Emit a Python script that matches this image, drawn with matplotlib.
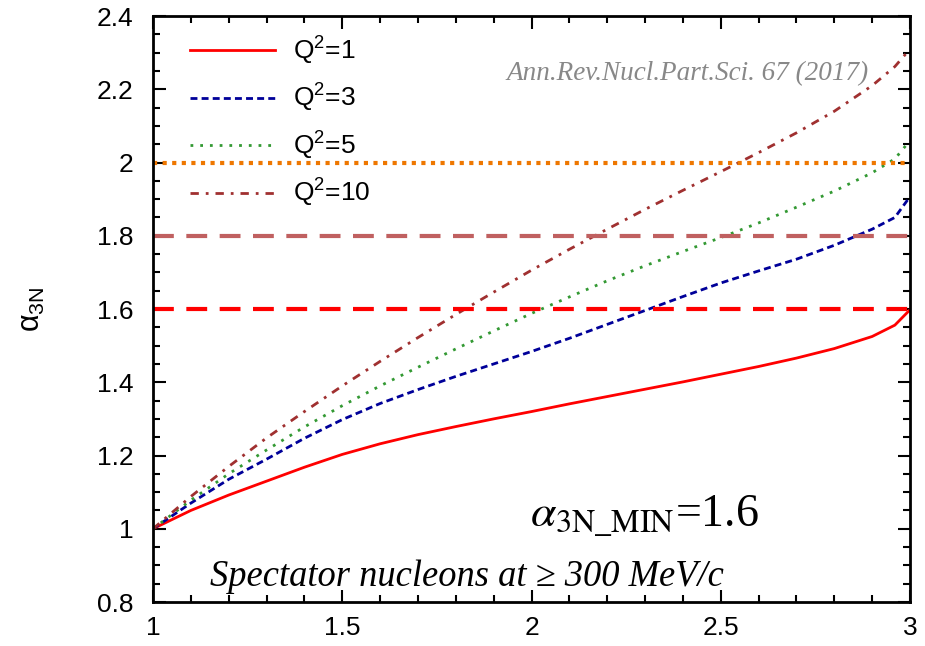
import matplotlib
matplotlib.use("Agg")
from matplotlib import pyplot as plt
from matplotlib.ticker import MultipleLocator

# data
x = [1.0, 1.1, 1.2, 1.3, 1.4, 1.5, 1.6, 1.7, 1.8, 1.9, 2.0, 2.1, 2.2, 2.3, 2.4,
     2.5, 2.6, 2.7, 2.8, 2.9, 2.96, 3.0]
q1 = [1.0, 1.05, 1.092, 1.13, 1.168, 1.203, 1.232, 1.257, 1.279, 1.30, 1.32, 1.341,
      1.361, 1.381, 1.401, 1.422, 1.443, 1.466, 1.492, 1.525, 1.556, 1.598]
q3 = [1.0, 1.07, 1.135, 1.19, 1.247, 1.298, 1.342, 1.38, 1.416, 1.45, 1.484, 1.52,
      1.558, 1.596, 1.634, 1.671, 1.704, 1.736, 1.774, 1.818, 1.85, 1.907]
q5 = [1.0, 1.078, 1.15, 1.215, 1.278, 1.336, 1.39, 1.441, 1.491, 1.54, 1.588, 1.633,
      1.677, 1.718, 1.757, 1.795, 1.835, 1.878, 1.922, 1.972, 2.01, 2.06]
q10 = [1.0, 1.088, 1.17, 1.248, 1.32, 1.39, 1.457, 1.522, 1.585, 1.646, 1.706, 1.763,
       1.818, 1.872, 1.924, 1.975, 2.027, 2.081, 2.14, 2.21, 2.262, 2.31]
labels = ['Q$^2$=1', 'Q$^2$=3', 'Q$^2$=5', 'Q$^2$=10']
hlines = [2.0, 1.8, 1.6]

plt.rcParams['font.family'] = ['Liberation Sans', 'DejaVu Sans']
plt.rcParams['mathtext.fontset'] = 'custom'
plt.rcParams['mathtext.rm'] = 'Liberation Sans'
plt.rcParams['mathtext.it'] = 'Liberation Sans:italic'

fig = plt.figure(figsize=(9.25, 6.46), dpi=100)
ax = fig.add_axes([0.1654, 0.0681, 0.8184, 0.9071])

ax.plot(x, q1, color='#ff0000', lw=2, label=labels[0])
ax.plot(x, q3, color='#000099', lw=2, ls=(0, (2.5, 1.5)), label=labels[1])
ax.plot(x, q5, color='#339933', lw=2, ls=(0, (1, 2.5)), label=labels[2])
ax.plot(x, q10, color='#a03030', lw=2, ls=(0, (3, 2.5, 1, 2.5)), label=labels[3])

ax.axhline(hlines[0], color='#ee7700', lw=3, ls=(0, (1, 1.3)))
ax.axhline(hlines[1], color='#c06060', lw=3, ls=(0, (5, 3)))
ax.axhline(hlines[2], color='#ff0000', lw=3, ls=(0, (5, 3)))

ax.set_xlim(1, 3)
ax.set_ylim(0.8, 2.4)
ax.xaxis.set_major_locator(MultipleLocator(0.5))
ax.xaxis.set_minor_locator(MultipleLocator(0.1))
ax.yaxis.set_major_locator(MultipleLocator(0.2))
ax.yaxis.set_minor_locator(MultipleLocator(0.05))
ax.xaxis.set_major_formatter(plt.FuncFormatter(lambda v, p: ('%g' % v)))
ax.yaxis.set_major_formatter(plt.FuncFormatter(lambda v, p: ('%g' % round(v, 2))))
ax.tick_params(which='both', direction='in', top=True, right=True, width=1.5,
               labelsize=19)
ax.tick_params(which='major', length=9)
ax.tick_params(which='minor', length=5)
ax.tick_params(axis='x', pad=10)
ax.tick_params(axis='y', pad=14)
for s in ax.spines.values():
    s.set_linewidth(2)

ax.set_ylabel('\u03b1$_{\\mathrm{3N}}$', fontsize=22, labelpad=36)

ax.legend(loc='upper left', frameon=False, fontsize=19, handlelength=3.2,
          handletextpad=0.7, labelspacing=0.58, borderaxespad=0.3,
          bbox_to_anchor=(0.025, 1.0))

ax.text(0.945, 0.901, 'Ann.Rev.Nucl.Part.Sci. 67 (2017)', transform=ax.transAxes,
        ha='right', va='center', color='#888888', fontsize=19.5,
        family='Liberation Serif', style='italic')
ax.text(0.498, 0.147, r'$\alpha_{\mathrm{3N\_MIN}}$=1.6', transform=ax.transAxes,
        ha='left', va='center', fontsize=33, family='Liberation Serif',
        math_fontfamily='stix')
ax.text(0.075, 0.043, 'Spectator nucleons at \u2265 300 MeV/c', transform=ax.transAxes,
        ha='left', va='center', fontsize=26.3, family='Liberation Serif',
        style='italic')

fig.savefig('out.png', dpi=100)
